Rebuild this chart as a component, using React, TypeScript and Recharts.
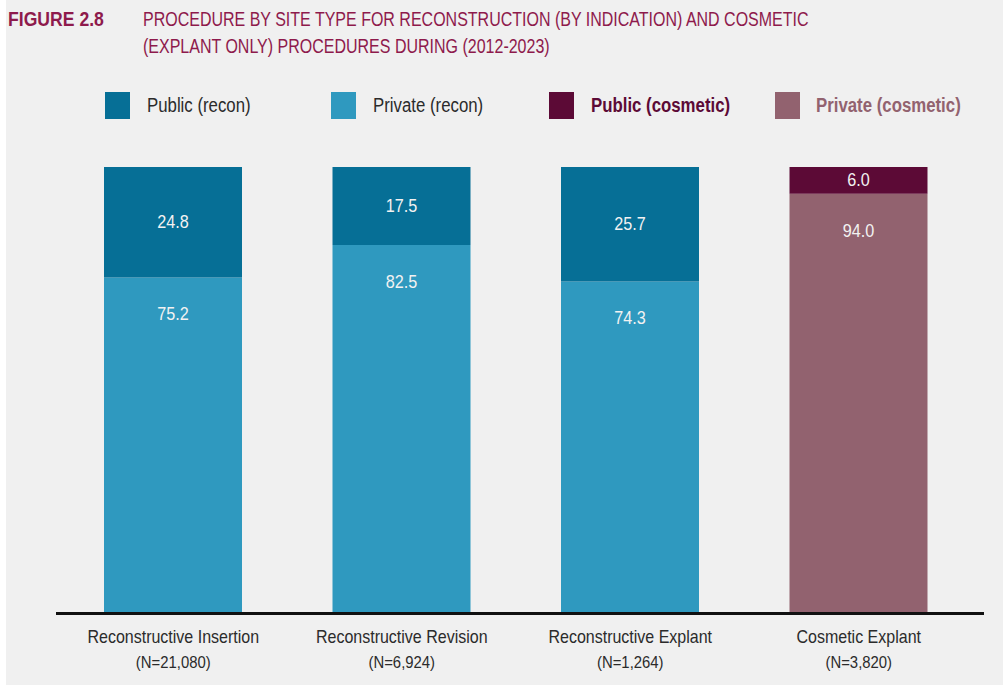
import { Bar, BarChart, LabelList, XAxis, YAxis } from "recharts";

// Share of procedures (%) by site type
const categories = [
  "Reconstructive Insertion",
  "Reconstructive Revision",
  "Reconstructive Explant",
  "Cosmetic Explant",
];
const counts = ["(N=21,080)", "(N=6,924)", "(N=1,264)", "(N=3,820)"];
const publicRecon = [24.8, 17.5, 25.7, null];
const privateRecon = [75.2, 82.5, 74.3, null];
const publicCosmetic = [null, null, null, 6.0];
const privateCosmetic = [null, null, null, 94.0];

const chartData = categories.map((name, i) => ({
  name,
  count: counts[i],
  publicRecon: publicRecon[i],
  privateRecon: privateRecon[i],
  publicCosmetic: publicCosmetic[i],
  privateCosmetic: privateCosmetic[i],
}));

// no condensed face is installed, so Liberation Sans gets squeezed with scaleX
const FONT = '"Liberation Sans", Arial, sans-serif';
const PLUM = "#8e1a4c";

const legendItems = [
  { label: "Public (recon)", color: "#066f96", text: "#2b2b2b", bold: false, x: 105, tx: 147 },
  { label: "Private (recon)", color: "#2f99bf", text: "#2b2b2b", bold: false, x: 331, tx: 373 },
  { label: "Public (cosmetic)", color: "#5c0a36", text: "#5c0a36", bold: true, x: 549, tx: 591 },
  { label: "Private (cosmetic)", color: "#92626f", text: "#92626f", bold: true, x: 775, tx: 816 },
];

function fmt(v: any) {
  return v == null ? "" : Number(v).toFixed(1);
}

function Narrow({ left, top, size, scale, color, bold, lh, children }: any) {
  return (
    <div
      style={{
        position: "absolute",
        left,
        top,
        fontSize: size,
        lineHeight: lh ? `${lh}px` : "normal",
        fontWeight: bold ? 700 : 400,
        color,
        whiteSpace: "nowrap",
        transform: `scaleX(${scale})`,
        transformOrigin: "0 0",
      }}
    >
      {children}
    </div>
  );
}

function valueLabel(offset: number | null) {
  return (props: any) => {
    const { x, y, width, height, value } = props;
    if (value == null) return null;
    const cy = offset == null ? y + height / 2 : y + offset;
    return (
      <g transform={`translate(${x + width / 2},${cy}) scale(0.9,1)`}>
        <text
          textAnchor="middle"
          dominantBaseline="central"
          fill="#f2f2f2"
          fontSize={18}
          fontFamily={FONT}
        >
          {fmt(value)}
        </text>
      </g>
    );
  };
}

const CenterLabel = valueLabel(null);
// private segments carry their label near the top, not the middle
const TopLabel = valueLabel(37);

function CategoryTick(props: any) {
  const { x, y, payload, index } = props;
  return (
    <g>
      <g transform={`translate(${x},${y + 22}) scale(0.89,1)`}>
        <text textAnchor="middle" fill="#2b2b2b" fontSize={18} fontFamily={FONT}>
          {payload.value}
        </text>
      </g>
      <g transform={`translate(${x},${y + 47}) scale(0.93,1)`}>
        <text textAnchor="middle" fill="#2b2b2b" fontSize={16} fontFamily={FONT}>
          {counts[index]}
        </text>
      </g>
    </g>
  );
}

export default function App() {
  return (
    <div
      style={{
        position: "absolute",
        left: 0,
        top: 0,
        width: 1003,
        height: 685,
        background: "#f0f0f0",
        fontFamily: FONT,
        overflow: "hidden",
      }}
    >
      <div style={{ position: "absolute", left: 0, top: 0, width: 6, height: 685, background: "#fff" }} />
      <Narrow left={8} top={6} size={20} scale={0.88} color={PLUM} bold lh={27}>
        FIGURE 2.8
      </Narrow>
      <Narrow left={143} top={6} size={20} scale={0.8} color={PLUM} lh={27}>
        PROCEDURE BY SITE TYPE FOR RECONSTRUCTION (BY INDICATION) AND COSMETIC
        <br />
        (EXPLANT ONLY) PROCEDURES DURING (2012-2023)
      </Narrow>

      {legendItems.map((it) => (
        <div key={it.label}>
          <div
            style={{
              position: "absolute",
              left: it.x,
              top: 92,
              width: 25,
              height: 27,
              background: it.color,
            }}
          />
          <Narrow left={it.tx} top={94} size={20} scale={0.84} color={it.text} bold={it.bold}>
            {it.label}
          </Narrow>
        </div>
      ))}

      <div style={{ position: "absolute", left: 0, top: 0 }}>
        <BarChart
          width={1003}
          height={685}
          data={chartData}
          margin={{ top: 167, right: 30, left: 59, bottom: 0 }}
          barSize={138}
        >
          <YAxis hide domain={[0, 100]} width={0} />
          <XAxis
            dataKey="name"
            height={72}
            axisLine={false}
            tickLine={false}
            interval={0}
            tick={<CategoryTick />}
          />
          <Bar dataKey="privateRecon" stackId="a" fill="#2f99bf" isAnimationActive={false}>
            <LabelList dataKey="privateRecon" content={TopLabel} />
          </Bar>
          <Bar dataKey="publicRecon" stackId="a" fill="#066f96" isAnimationActive={false}>
            <LabelList dataKey="publicRecon" content={CenterLabel} />
          </Bar>
          <Bar dataKey="privateCosmetic" stackId="a" fill="#92626f" isAnimationActive={false}>
            <LabelList dataKey="privateCosmetic" content={TopLabel} />
          </Bar>
          <Bar dataKey="publicCosmetic" stackId="a" fill="#5c0a36" isAnimationActive={false}>
            <LabelList dataKey="publicCosmetic" content={CenterLabel} />
          </Bar>
        </BarChart>
      </div>

      <div style={{ position: "absolute", left: 56, top: 612, width: 928, height: 3, background: "#111" }} />
    </div>
  );
}
